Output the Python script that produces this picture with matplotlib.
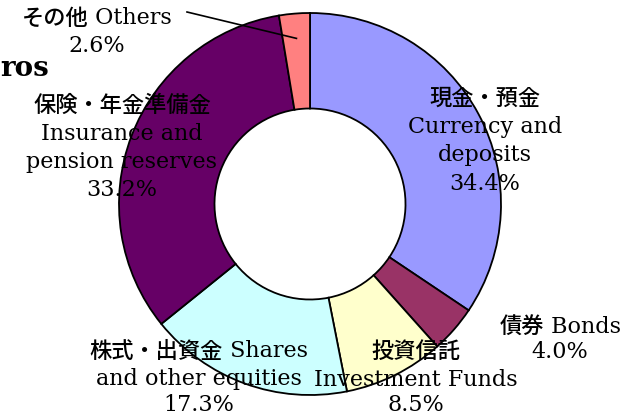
import numpy as np
import matplotlib
matplotlib.use("Agg")
import matplotlib.pyplot as plt

# asset composition (share of total, %)
categories = ["Currency and deposits", "Bonds", "Investment Funds",
              "Shares and other equities", "Insurance and pension reserves", "Others"]
shares = [34.4, 4.0, 8.5, 17.3, 33.2, 2.6]
colors = ["#9999FF", "#993366", "#FFFFCC", "#CCFFFF", "#660066", "#FF8080"]
labels = [
    "現金・預金\nCurrency and\ndeposits\n34.4%",
    "債券 Bonds\n4.0%",
    "投資信託\nInvestment Funds\n8.5%",
    "株式・出資金 Shares\nand other equities\n17.3%",
    "保険・年金準備金\nInsurance and\npension reserves\n33.2%",
    "その他 Others\n2.6%",
]
# label anchor (pixel x, pixel y of first line), chosen by hand
label_pos = [(485, 98), (560, 327), (416, 351), (199, 351), (122, 105), (97, 18)]

W, H = 636, 418
fig = plt.figure(figsize=(W / 100, H / 100), dpi=100)
ax = fig.add_axes([0, 0, 1, 1])

cx, cy, r = 310, H - 204, 191
wedges, _ = ax.pie(shares, colors=colors, startangle=90, counterclock=False,
                   center=(cx, cy), radius=r, frame=True,
                   wedgeprops=dict(width=r * 0.5, edgecolor="black", linewidth=1.3))
ax.set_xlim(0, W)
ax.set_ylim(0, H)
ax.set_aspect("equal")
ax.axis("off")

serif = "DejaVu Serif"
jp = "Noto Sans CJK JP"
fs = 16
line_h = 28.5
renderer = fig.canvas.get_renderer()


def is_cjk(s):
    return any(ord(c) > 0x2E80 for c in s)


def put_line(x, y, line):
    # japanese part in gothic, latin part in serif, centred together
    if is_cjk(line):
        if " " in line:
            jp_part, en_part = line.split(" ", 1)
            en_part = " " + en_part
        else:
            jp_part, en_part = line, ""
        t1 = ax.text(0, y, jp_part, ha="left", va="center", fontsize=fs,
                     family=jp, fontweight="medium")
        parts = [t1]
        if en_part:
            t2 = ax.text(0, y, en_part, ha="left", va="center", fontsize=fs,
                         family=serif)
            parts.append(t2)
        widths = [t.get_window_extent(renderer).width for t in parts]
        x0 = x - sum(widths) / 2
        for t, wd in zip(parts, widths):
            t.set_x(x0)
            x0 += wd
    else:
        ax.text(x, y, line, ha="center", va="center", fontsize=fs, family=serif)


for lab, (x, y) in zip(labels, label_pos):
    n = len(lab.split("\n"))
    for i, line in enumerate(lab.split("\n")):
        yy = y + i * line_h
        if y > 300 and i == n - 1:
            yy -= 3  # keep the bottom percentages inside the canvas
        put_line(x, H - yy, line)

# leader line for the small "Others" slice
w = wedges[-1]
mid = np.deg2rad((w.theta1 + w.theta2) / 2)
ex, ey = cx + 0.87 * r * np.cos(mid), cy + 0.87 * r * np.sin(mid)
ax.plot([187, ex], [H - 12, ey], color="black", linewidth=1.2)

ax.text(0, H - 68, "ros", ha="left", va="center", fontsize=20,
        fontweight="bold", family=serif)

fig.savefig("out.png", dpi=100)
